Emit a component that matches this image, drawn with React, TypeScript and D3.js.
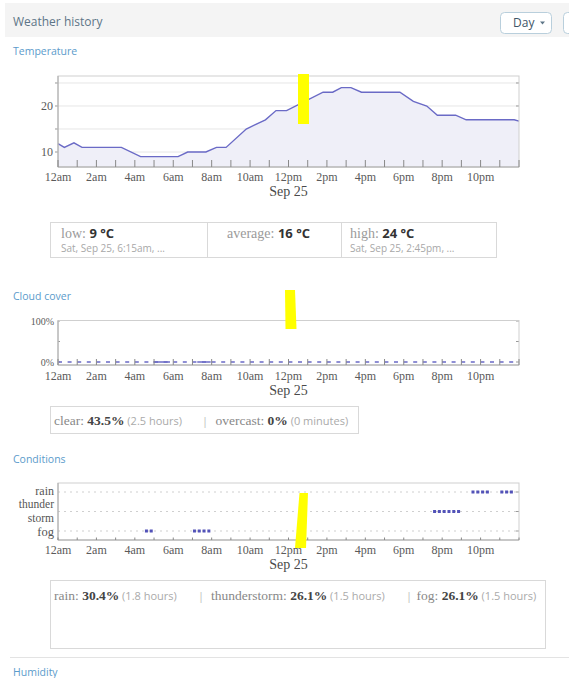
import React from 'react';
import * as d3 from 'd3';

// ---------- data ----------
const hourTickLabels = ['12am', '2am', '4am', '6am', '8am', '10am', '12pm', '2pm', '4pm', '6pm', '8pm', '10pm'];
const dayLabel = 'Sep 25';

const tempHours = [0, 0.33, 0.83, 1.25, 3.3, 4.3, 6.25, 6.75, 7.7, 8.25, 8.75, 9.8, 10.3, 10.8, 11.35, 11.9, 13.8, 14.3, 14.75, 15.25, 15.8, 17.8, 18.5, 19.2, 19.75, 20.7, 21.25, 23.75, 24];
const tempValues = [11.8, 11, 12, 11, 11, 9, 9, 10, 10, 11, 11, 15, 16, 17, 19, 19, 23, 23, 24, 24, 23, 23, 21, 20, 18, 18, 17, 17, 16.7];
const tempGridTicks = [10, 15, 20, 25];
const tempLabelTicks = [10, 20];

const cloudHours = [0, 24];
const cloudValues = [0, 0];
const cloudSolidFrom = [4.96, 7.25];
const cloudSolidTo = [5.83, 7.95];
const cloudTicks = [0, 50, 100];
const cloudLabelTicks = [0, 100];

const conditionCategories = ['fog', 'thunderstorm', 'rain'];
const fogHours = [4.5, 4.75, 7.0, 7.25, 7.5, 7.75];
const thunderHours = [19.5, 19.75, 20, 20.25, 20.5, 20.75];
const rainHours = [21.5, 21.75, 22, 22.25, 23, 23.25, 23.5];

const SERIF = "'Liberation Serif', 'Times New Roman', serif";
const SANS = "'Open Sans', 'DejaVu Sans', sans-serif";
const LINE = '#6a6ac6';
const TITLE = '#5b9bcb';

const X0 = 58;
const X1 = 519;
const x = d3.scaleLinear().domain([0, 24]).range([X0, X1]);
const hourTicks = d3.range(0, 25, 1);
const labelHours = d3.range(0, 24, 2);

function XAxis({ bottom, tickLen, labelY, dayY }: { bottom: number; tickLen: number; labelY: number; dayY: number }) {
  return (
    <g>
      {hourTicks.map((h) => (
        <line key={h} x1={x(h)} x2={x(h)} y1={bottom} y2={bottom - tickLen} stroke="#888" strokeWidth={1} />
      ))}
      {labelHours.map((h, i) => (
        <text key={h} x={x(h)} y={labelY} textAnchor="middle" fontFamily={SERIF} fontSize={12} fill="#5a5a5a">
          {hourTickLabels[i]}
        </text>
      ))}
      <text x={x(12)} y={dayY} textAnchor="middle" fontFamily={SERIF} fontSize={14} fill="#4a4a4a">
        {dayLabel}
      </text>
    </g>
  );
}

function Frame({ top, bottom }: { top: number; bottom: number }) {
  return (
    <g>
      <rect x={X0} y={top} width={X1 - X0} height={bottom - top} fill="none" stroke="#cfcfcf" strokeWidth={1} />
      <line x1={X0} x2={X0} y1={top} y2={bottom} stroke="#a8a8a8" />
      <line x1={X0} x2={X1} y1={bottom} y2={bottom} stroke="#a8a8a8" />
    </g>
  );
}

export default function App() {
  // temperature
  const tTop = 76, tBot = 167;
  const yT = d3.scaleLinear().domain([6.74, 26.52]).range([tBot, tTop]);
  const tempData = tempHours.map((h, i) => [h, tempValues[i]] as [number, number]);
  const tLine = d3.line<[number, number]>().x((d) => x(d[0])).y((d) => yT(d[1]))(tempData) || '';
  const tArea = d3.area<[number, number]>().x((d) => x(d[0])).y0(tBot).y1((d) => yT(d[1]))(tempData) || '';

  // cloud
  const cTop = 320.5, cBot = 365;
  const yC = d3.scaleLinear().domain([0, 100]).range([362, 321]);
  const cloudData = cloudHours.map((h, i) => [h, cloudValues[i]] as [number, number]);
  const cLine = d3.line<[number, number]>().x((d) => x(d[0])).y((d) => yC(d[1]))(cloudData) || '';

  // conditions
  const kTop = 483, kBot = 540;
  const yK = d3.scalePoint<string>().domain(conditionCategories).range([531, 492]);
  const dots: { h: number; c: string }[] = [
    ...fogHours.map((h) => ({ h, c: 'fog' })),
    ...thunderHours.map((h) => ({ h, c: 'thunderstorm' })),
    ...rainHours.map((h) => ({ h, c: 'rain' })),
  ];

  return (
    <svg width={569} height={678} style={{ position: 'absolute', left: 0, top: 0, background: '#fff' }}>
      {/* header */}
      <rect x={5} y={3} width={570} height={34} fill="#f4f4f4" />
      <text x={13} y={26} fontFamily={SANS} fontSize={12} fill="#5d7587">Weather history</text>
      <rect x={500.5} y={12.5} width={51} height={21} rx={4} fill="#fff" stroke="#b9cfdc" />
      <text x={513} y={27} fontFamily={SANS} fontSize={12} fill="#3e5567">Day</text>
      <path d="M540,21.5 L545,21.5 L542.5,24.5 Z" fill="#5d7587" />
      <rect x={563.5} y={12.5} width={30} height={21} rx={4} fill="#fff" stroke="#b9cfdc" />

      {/* Temperature */}
      <text x={13} y={55} fontFamily={SANS} fontSize={10.5} fill={TITLE}>Temperature</text>
      <rect x={X0} y={tTop} width={X1 - X0} height={tBot - tTop} fill="#fff" />
      {tempGridTicks.map((v) => (
        <g key={v}>
          <line x1={X0} x2={X1} y1={yT(v)} y2={yT(v)} stroke="#e6e6e6" />
          <line x1={X1 - 3} x2={X1} y1={yT(v)} y2={yT(v)} stroke="#999" />
          <line x1={X0 - 3} x2={X0} y1={yT(v)} y2={yT(v)} stroke="#999" />
        </g>
      ))}
      <path d={tArea} fill="#efeff8" />
      <path d={tLine} fill="none" stroke={LINE} strokeWidth={1.4} />
      {tempLabelTicks.map((v) => (
        <text key={v} x={X0 - 5} y={yT(v) + 4} textAnchor="end" fontFamily={SERIF} fontSize={12} fill="#5a5a5a">{v}</text>
      ))}
      <Frame top={tTop} bottom={tBot} />
      <XAxis bottom={tBot} tickLen={7} labelY={181} dayY={196} />
      <rect x={298} y={74} width={11} height={50} fill="#ffff00" />

      {/* temperature summary */}
      <rect x={50.5} y={222.5} width={446} height={35} fill="#fff" stroke="#d9d9d9" />
      <line x1={207.5} x2={207.5} y1={222.5} y2={257.5} stroke="#d9d9d9" />
      <line x1={341.5} x2={341.5} y1={222.5} y2={257.5} stroke="#d9d9d9" />
      <text x={61} y={238} fontFamily={SERIF} fontSize={14} fill="#9a9a9a">
        low: <tspan fontFamily={SANS} fontWeight="bold" fontSize={13} fill="#333">9 °C</tspan>
      </text>
      <text x={227} y={238} fontFamily={SERIF} fontSize={14} fill="#9a9a9a">
        average: <tspan fontFamily={SANS} fontWeight="bold" fontSize={13} fill="#333">16 °C</tspan>
      </text>
      <text x={350} y={238} fontFamily={SERIF} fontSize={14} fill="#9a9a9a">
        high: <tspan fontFamily={SANS} fontWeight="bold" fontSize={13} fill="#333">24 °C</tspan>
      </text>
      <text x={61} y={252} fontFamily={SANS} fontSize={10} fill="#a8a8a8">Sat, Sep 25, 6:15am, ...</text>
      <text x={350} y={252} fontFamily={SANS} fontSize={10} fill="#a8a8a8">Sat, Sep 25, 2:45pm, ...</text>

      {/* Cloud cover */}
      <text x={13} y={300} fontFamily={SANS} fontSize={10.5} fill={TITLE}>Cloud cover</text>
      {cloudTicks.map((v) => (
        <g key={v}>
          <line x1={X1 - 3} x2={X1} y1={yC(v)} y2={yC(v)} stroke="#999" />
          <line x1={X0} x2={X0 + 2} y1={yC(v)} y2={yC(v)} stroke="#999" />
        </g>
      ))}
      {cloudLabelTicks.map((v) => (
        <text key={v} x={X0 - 4} y={yC(v) + 3.5} textAnchor="end" fontFamily={SERIF} fontSize={10} fill="#5a5a5a">{v}%</text>
      ))}
      <path d={cLine} fill="none" stroke={LINE} strokeWidth={1.5} strokeDasharray="4 5.6" />
      {cloudSolidFrom.map((h, i) => (
        <line key={i} x1={x(h)} x2={x(cloudSolidTo[i])} y1={yC(0)} y2={yC(0)} stroke={LINE} strokeWidth={1.5} />
      ))}
      <Frame top={cTop} bottom={cBot} />
      <XAxis bottom={cBot} tickLen={6} labelY={380} dayY={395} />
      <path d="M285,290 L295,290 L296.5,329 L285.5,329 Z" fill="#ffff00" />

      {/* cloud summary */}
      <rect x={50.5} y={406.5} width={308} height={27} fill="#fff" stroke="#d9d9d9" />
      <text x={54} y={425} fontFamily={SERIF} fontSize={13.5} fill="#888">
        clear: <tspan fontWeight="bold" fill="#444">43.5%</tspan>
        <tspan fontFamily={SANS} fontSize={11} fill="#aaa"> (2.5 hours)</tspan>
      </text>
      <text x={202} y={425} fontFamily={SANS} fontSize={11} fill="#bbb">|</text>
      <text x={215.5} y={425} fontFamily={SERIF} fontSize={13.5} fill="#888">
        overcast: <tspan fontWeight="bold" fill="#444">0%</tspan>
        <tspan fontFamily={SANS} fontSize={11} fill="#aaa"> (0 minutes)</tspan>
      </text>

      {/* Conditions */}
      <text x={13} y={463} fontFamily={SANS} fontSize={10.5} fill={TITLE}>Conditions</text>
      {conditionCategories.map((c) => (
        <g key={c}>
          <line x1={X0} x2={X1} y1={yK(c)} y2={yK(c)} stroke="#cfcfcf" strokeDasharray="2 4" />
          <line x1={X1 - 3} x2={X1} y1={yK(c)} y2={yK(c)} stroke="#999" />
        </g>
      ))}
      <text x={X0 - 4} y={(yK('rain') || 0) + 2.5} textAnchor="end" fontFamily={SERIF} fontSize={12} fill="#555">rain</text>
      <text x={X0 - 4} y={(yK('thunderstorm') || 0) - 3.5} textAnchor="end" fontFamily={SERIF} fontSize={11.5} fill="#555">thunder</text>
      <text x={X0 - 4} y={(yK('thunderstorm') || 0) + 10} textAnchor="end" fontFamily={SERIF} fontSize={11.5} fill="#555">storm</text>
      <text x={X0 - 4} y={(yK('fog') || 0) + 4.5} textAnchor="end" fontFamily={SERIF} fontSize={12.5} fill="#555">fog</text>
      {dots.map((d, i) => (
        <rect key={i} x={x(d.h) + 0.5} y={(yK(d.c) || 0) - 1.5} width={3} height={3} fill="#5252b8" />
      ))}
      <Frame top={kTop} bottom={kBot} />
      <XAxis bottom={kBot} tickLen={2.5} labelY={554} dayY={569} />
      <path d="M299.5,493 L308,493 L306,548 L295,548 Z" fill="#ffff00" />

      {/* conditions summary */}
      <rect x={50.5} y={580.5} width={495} height={68} fill="#fff" stroke="#d9d9d9" />
      <text x={54} y={600} fontFamily={SERIF} fontSize={13.5} fill="#888">
        rain: <tspan fontWeight="bold" fill="#444">30.4%</tspan>
        <tspan fontFamily={SANS} fontSize={11} fill="#aaa"> (1.8 hours)</tspan>
      </text>
      <text x={198} y={600} fontFamily={SANS} fontSize={11} fill="#bbb">|</text>
      <text x={211} y={600} fontFamily={SERIF} fontSize={13.5} fill="#888">
        thunderstorm: <tspan fontWeight="bold" fill="#444">26.1%</tspan>
        <tspan fontFamily={SANS} fontSize={11} fill="#aaa"> (1.5 hours)</tspan>
      </text>
      <text x={406} y={600} fontFamily={SANS} fontSize={11} fill="#bbb">|</text>
      <text x={416.5} y={600} fontFamily={SERIF} fontSize={13.5} fill="#888">
        fog: <tspan fontWeight="bold" fill="#444">26.1%</tspan>
        <tspan fontFamily={SANS} fontSize={11} fill="#aaa"> (1.5 hours)</tspan>
      </text>

      <line x1={10} x2={569} y1={657.5} y2={657.5} stroke="#e3e3e3" />
      <text x={13} y={676} fontFamily={SANS} fontSize={10.5} fill={TITLE}>Humidity</text>
    </svg>
  );
}
